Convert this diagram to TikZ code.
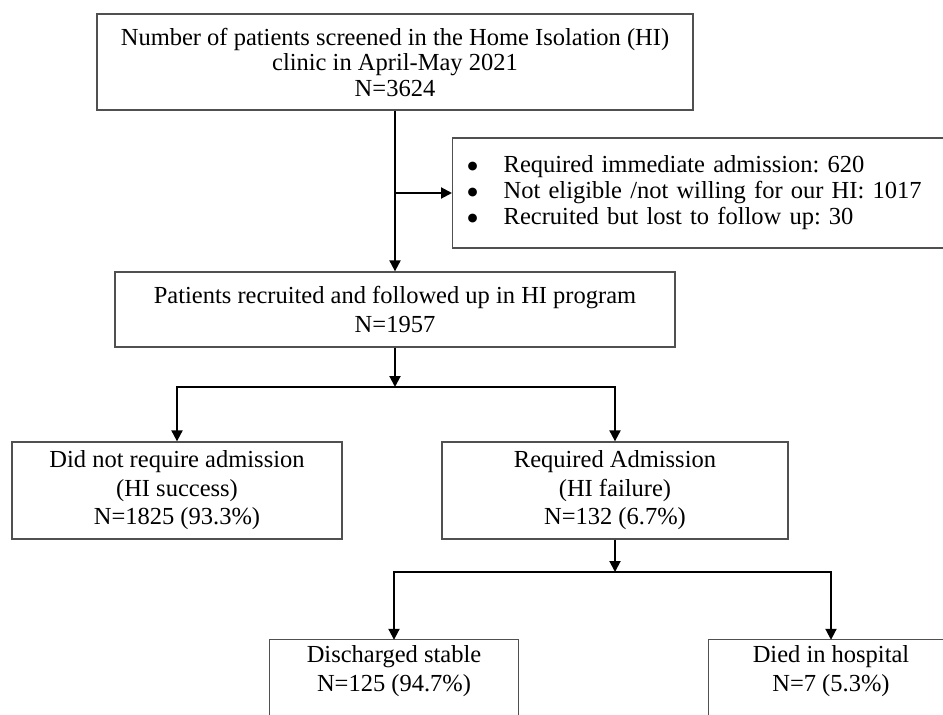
\documentclass[tikz,border=0pt]{standalone}
\usepackage{fontspec}
\setmainfont{Liberation Serif}
\newfontfamily\dvfont{DejaVu Sans}
\usetikzlibrary{arrows.meta}
\definecolor{boxgrey}{HTML}{505050}
\frenchspacing
\newcommand{\bigbul}{\raisebox{0.28ex}{\dvfont\fontsize{11.5}{12}\selectfont ●}}
\begin{document}
\begin{tikzpicture}[x=1pt,y=-1pt,
  box/.style={draw=boxgrey, line width=1.3pt, inner sep=0pt, align=center, font=\fontsize{24.5}{28.5}\selectfont},
  txt/.style={inner sep=0pt, align=center, font=\fontsize{24.5}{28.5}\selectfont},
  boxline/.style={draw=boxgrey, line width=1.3pt},
  conn/.style={line width=2pt, -{Triangle[length=11pt,width=11pt]}},
  plain/.style={line width=2pt}]
\useasboundingbox (0,0) rectangle (943,715);
\clip (0,0) rectangle (943,715);
\node[box, minimum width=596, minimum height=96, font=\fontsize{24.5}{25.5}\selectfont] (top) at (395,62)
  {Number of patients screened in the Home Isolation (HI)\\clinic in April-May 2021\\N=3624};
\node[box, minimum width=560, minimum height=75] (rec) at (395,309.5)
  {Patients recruited and followed up in HI program\\N=1957};
\node[box, anchor=west, text width=495pt, minimum height=110, align=left, inner xsep=15pt, font=\fontsize{24.5}{26}\selectfont] (excl) at (452,193)
  {\begin{tabular}{@{}l@{\hspace{26pt}}l@{}}\bigbul & Required immediate admission: 620\\ \bigbul & Not eligible /not willing for our HI: 1017\\ \bigbul & Recruited but lost to follow up: 30\end{tabular}};
\node[box, minimum width=330, minimum height=97] (succ) at (177,490.5)
  {Did not require admission\\(HI success)\\N=1825 (93.3\%)};
\node[box, minimum width=346, minimum height=97] (fail) at (615,490.5)
  {Required Admission\\(HI failure)\\N=132 (6.7\%)};
\node[txt, minimum width=248, minimum height=62] (dis) at (394,671)
  {Discharged stable\\N=125 (94.7\%)};
\node[txt, minimum width=244, minimum height=62] (died) at (831,671)
  {Died in hospital\\N=7 (5.3\%)};
\draw[boxline] ([yshift=-60pt]dis.south west) rectangle (dis.north east);
\draw[boxline] ([yshift=-60pt]died.south west) rectangle (died.north east);
\coordinate (j1) at (395,193);
\coordinate (b1) at (395,387);
\coordinate (b2) at (615,572);
\draw[plain] (top.south) -- (j1);
\draw[conn] (j1) -- (rec.north);
\draw[conn] (j1) -- (excl.west);
\draw[conn] (rec.south) -- (b1);
\draw[conn] (b1) -| (succ.north);
\draw[conn] (b1) -| (fail.north);
\draw[conn] (fail.south) -- (b2);
\draw[conn] (b2) -| (dis.north);
\draw[conn] (b2) -| (died.north);
\end{tikzpicture}
\end{document}
